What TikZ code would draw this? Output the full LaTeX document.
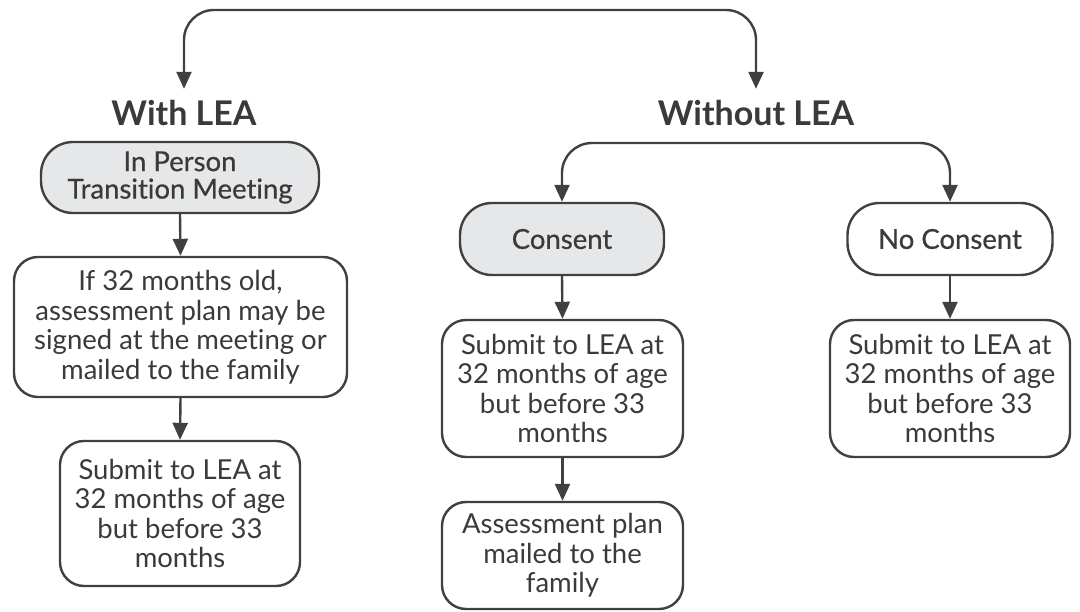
\documentclass[tikz,border=0pt]{standalone}
\usepackage{fontspec}
\setmainfont[Ligatures=NoCommon]{Lato}
\newfontfamily\medfont[Ligatures=NoCommon,FakeBold=0.6]{Lato}
\usetikzlibrary{arrows.meta}
\definecolor{ln}{HTML}{404040}
\definecolor{tx}{HTML}{3A3A3A}
\definecolor{gf}{HTML}{E6E7E8}
\begin{document}
\begin{tikzpicture}[x=1pt,y=-1pt,
  box/.style={draw=ln, line width=2.4pt, rounded corners=24pt, align=center, text=tx,
    font=\fontsize{27.5}{29.5}\selectfont, inner sep=0pt},
  graybox/.style={box, fill=gf, rounded corners=32pt, font=\fontsize{27.5}{27.5}\selectfont\medfont},
  head/.style={text=tx, font=\fontsize{34}{38}\selectfont\bfseries, inner xsep=0pt, inner ysep=14pt,
    text height=23pt, text depth=7pt, anchor=base},
  conn/.style={draw=ln, line width=2.4pt, -{Triangle[length=17pt,width=15pt]}},
  fork/.style={draw=ln, line width=2.4pt, rounded corners=30pt,
    {Triangle[length=17pt,width=15pt]}-{Triangle[length=17pt,width=15pt]}}]
\useasboundingbox[fill=white] (0,0) rectangle (1080,612);
% headings
\node[head] (h1) at (184,126) {With LEA};
\node[head] (h2) at (756,126) {Without LEA};
\coordinate (top) at (468,10);
\coordinate (split) at (757,143);
% left column
\node[graybox, minimum width=278pt, minimum height=71pt] (n1) at (180,177.5) {In Person\\Transition Meeting};
\node[box, minimum width=333pt, minimum height=140pt] (n2) at (180.5,327) {If 32 months old,\\assessment plan may be\\signed at the meeting or\\mailed to the family};
\node[box, minimum width=240pt, minimum height=145pt] (n3) at (180,513.5) {Submit to LEA at\\32 months of age\\but before 33\\months};
% middle column
\node[graybox, minimum width=204pt, minimum height=72pt] (c1) at (562,239) {Consent};
\node[box, minimum width=241pt, minimum height=137pt] (c2) at (562.5,388.5) {Submit to LEA at\\32 months of age\\but before 33\\months};
\node[box, minimum width=241pt, minimum height=107pt] (c3) at (562.5,555.5) {Assessment plan\\mailed to the\\family};
% right column
\node[box, rounded corners=32pt, font=\fontsize{27.5}{27.5}\selectfont\medfont, minimum width=205pt, minimum height=72pt] (d1) at (950,239) {No Consent};
\node[box, minimum width=240pt, minimum height=137pt] (d2) at (950,388.5) {Submit to LEA at\\32 months of age\\but before 33\\months};
% connectors
\draw[fork] (h1.north) |- (top) -| (h2.north);
\draw[fork] (c1.north) |- (split) -| (d1.north);
\draw[conn] (n1.south) -- (n2.north);
\draw[conn] (n2.south) -- (n3.north);
\draw[conn] (c1.south) -- (c2.north);
\draw[conn] (c2.south) -- (c3.north);
\draw[conn] (d1.south) -- (d2.north);
\end{tikzpicture}
\end{document}
